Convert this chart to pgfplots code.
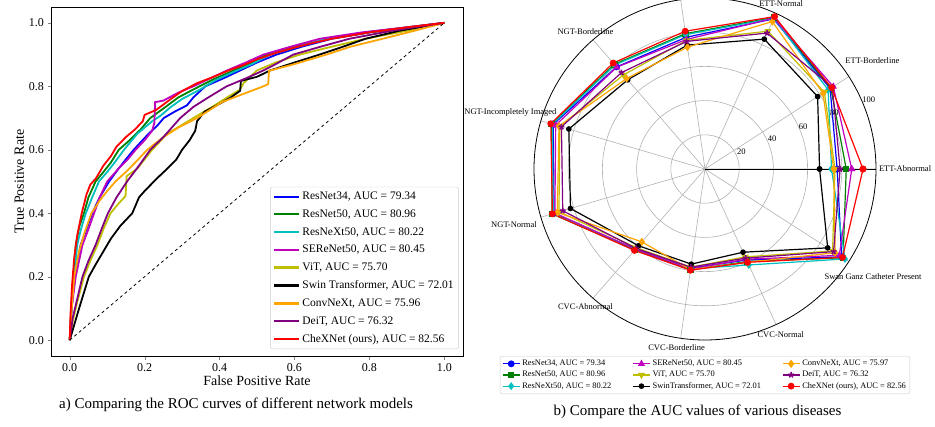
\documentclass[border=0pt]{standalone}
\usepackage{fontspec}
\setmainfont{Liberation Serif}
\usepackage{pgfplots}
\pgfplotsset{compat=1.18}
\usepgfplotslibrary{polar}
\definecolor{mB}{rgb}{0,0,1}
\definecolor{mG}{rgb}{0,0.5,0}
\definecolor{mC}{rgb}{0,0.75,0.75}
\definecolor{mM}{rgb}{0.75,0,0.75}
\definecolor{mY}{rgb}{0.75,0.75,0}
\definecolor{mO}{rgb}{1,0.647,0}
\definecolor{mP}{rgb}{0.5,0,0.5}
\definecolor{mR}{rgb}{1,0,0}
\begin{document}
\begin{tikzpicture}
\useasboundingbox (0pt,0pt) rectangle (935pt,426pt);
\begin{axis}[
  at={(51pt,70pt)}, anchor=south west,
  scale only axis, width=412pt, height=349pt,
  xmin=-0.05, xmax=1.05, ymin=-0.05, ymax=1.05,
  xtick={0,0.2,0.4,0.6,0.8,1.0}, ytick={0,0.2,0.4,0.6,0.8,1.0},
  xtick pos=bottom, ytick pos=left, tick align=outside,
  major tick length=3.5pt,
  /pgf/number format/.cd, fixed, fixed zerofill, precision=1, assume math mode=true, /pgfplots/.cd,
  ticklabel style={font=\fontsize{12}{14}\selectfont},
  xlabel={False Positive Rate}, ylabel={True Positive Rate},
  label style={font=\fontsize{14}{16}\selectfont},
  xlabel style={yshift=2pt}, ylabel style={yshift=-2pt},
  axis line style={line width=0.8pt},
  every axis plot/.append style={line width=1.8pt, no marks},
  legend cell align=left,
  legend style={at={(0.99,0.02)}, anchor=south east, draw=black!20, rounded corners=2pt,
    font=\fontsize{11.5}{13}\selectfont, row sep=4.6pt, inner sep=3pt},
  legend image code/.code={\draw[#1, line width=2.1pt] (0pt,0pt) -- (25pt,0pt);},
]
\addplot[mB] coordinates {(0,0)(0.005,0.1)(0.013,0.2)(0.029,0.3)(0.045,0.35)(0.06,0.4)(0.08,0.45)(0.105,0.5)(0.13,0.54)(0.15,0.57)(0.171,0.6)(0.21,0.65)(0.233,0.675)(0.251,0.7)(0.28,0.72)(0.313,0.74)(0.33,0.765)(0.362,0.8)(0.41,0.825)(0.455,0.85)(0.5,0.875)(0.552,0.9)(0.62,0.925)(0.7,0.95)(0.8,0.97)(0.9,0.985)(1,1)};
\addlegendentry{ResNet34, AUC = 79.34}
\addplot[mG] coordinates {(0,0)(0.004,0.1)(0.01,0.2)(0.016,0.3)(0.026,0.36)(0.038,0.4)(0.05,0.45)(0.069,0.5)(0.09,0.53)(0.11,0.56)(0.131,0.6)(0.16,0.63)(0.19,0.665)(0.215,0.7)(0.25,0.73)(0.29,0.765)(0.33,0.79)(0.38,0.82)(0.428,0.845)(0.48,0.872)(0.526,0.9)(0.6,0.925)(0.694,0.95)(0.8,0.97)(0.9,0.985)(1,1)};
\addlegendentry{ResNet50, AUC = 80.96}
\addplot[mC] coordinates {(0,0)(0.005,0.1)(0.012,0.2)(0.02,0.3)(0.03,0.35)(0.043,0.4)(0.06,0.45)(0.078,0.5)(0.1,0.53)(0.12,0.56)(0.145,0.6)(0.18,0.65)(0.22,0.69)(0.242,0.707)(0.27,0.735)(0.3,0.76)(0.348,0.79)(0.39,0.82)(0.437,0.845)(0.49,0.872)(0.535,0.9)(0.6,0.922)(0.685,0.95)(0.8,0.972)(0.9,0.986)(1,1)};
\addlegendentry{ResNeXt50, AUC = 80.22}
\addplot[mM] coordinates {(0,0)(0.005,0.1)(0.016,0.2)(0.034,0.3)(0.05,0.35)(0.065,0.4)(0.08,0.45)(0.1,0.5)(0.13,0.54)(0.155,0.57)(0.176,0.6)(0.2,0.63)(0.22,0.66)(0.226,0.685)(0.228,0.75)(0.25,0.755)(0.29,0.78)(0.33,0.8)(0.375,0.825)(0.42,0.85)(0.47,0.875)(0.517,0.9)(0.59,0.925)(0.668,0.95)(0.78,0.97)(0.9,0.986)(1,1)};
\addlegendentry{SEReNet50, AUC = 80.45}
\addplot[mY] coordinates {(0,0)(0.008,0.06)(0.02,0.12)(0.038,0.2)(0.055,0.25)(0.074,0.3)(0.09,0.35)(0.109,0.4)(0.13,0.43)(0.149,0.454)(0.152,0.517)(0.18,0.54)(0.2,0.57)(0.22,0.6)(0.26,0.65)(0.33,0.7)(0.38,0.735)(0.42,0.765)(0.455,0.79)(0.464,0.81)(0.5,0.85)(0.55,0.875)(0.614,0.9)(0.7,0.925)(0.79,0.95)(0.9,0.975)(1,1)};
\addlegendentry{ViT, AUC = 75.70}
\addplot[black] coordinates {(0,0)(0.01,0.04)(0.025,0.1)(0.038,0.15)(0.051,0.2)(0.07,0.24)(0.09,0.28)(0.11,0.32)(0.135,0.36)(0.167,0.4)(0.185,0.45)(0.2,0.47)(0.233,0.51)(0.26,0.54)(0.285,0.57)(0.3,0.6)(0.32,0.63)(0.335,0.66)(0.34,0.69)(0.36,0.72)(0.4,0.745)(0.43,0.765)(0.455,0.786)(0.457,0.817)(0.5,0.83)(0.535,0.85)(0.6,0.875)(0.667,0.9)(0.73,0.925)(0.79,0.95)(0.88,0.975)(1,1)};
\addlegendentry{Swin Transformer, AUC = 72.01}
\addplot[mO] coordinates {(0,0)(0.004,0.08)(0.012,0.2)(0.025,0.28)(0.04,0.34)(0.058,0.4)(0.08,0.44)(0.1,0.47)(0.122,0.5)(0.15,0.53)(0.175,0.56)(0.207,0.6)(0.25,0.64)(0.29,0.67)(0.34,0.7)(0.38,0.73)(0.406,0.75)(0.45,0.77)(0.517,0.8)(0.53,0.807)(0.532,0.849)(0.6,0.87)(0.685,0.9)(0.75,0.925)(0.836,0.95)(0.92,0.975)(1,1)};
\addlegendentry{ConvNeXt, AUC = 75.96}
\addplot[mP] coordinates {(0,0)(0.008,0.07)(0.02,0.13)(0.034,0.2)(0.05,0.25)(0.069,0.3)(0.085,0.35)(0.102,0.4)(0.125,0.45)(0.153,0.5)(0.185,0.55)(0.215,0.6)(0.25,0.64)(0.295,0.7)(0.33,0.735)(0.37,0.765)(0.419,0.8)(0.47,0.825)(0.517,0.85)(0.55,0.87)(0.597,0.9)(0.67,0.925)(0.747,0.95)(0.86,0.975)(1,1)};
\addlegendentry{DeiT, AUC = 76.32}
\addplot[mR] coordinates {(0,0)(0.002,0.08)(0.006,0.17)(0.012,0.26)(0.02,0.33)(0.032,0.40)(0.045,0.46)(0.055,0.49)(0.07,0.51)(0.09,0.55)(0.11,0.58)(0.125,0.61)(0.15,0.64)(0.175,0.665)(0.195,0.69)(0.2,0.71)(0.23,0.725)(0.27,0.76)(0.3,0.785)(0.34,0.81)(0.38,0.828)(0.42,0.848)(0.46,0.865)(0.5,0.885)(0.55,0.905)(0.6,0.922)(0.65,0.937)(0.7,0.95)(0.75,0.96)(0.8,0.97)(0.85,0.978)(0.9,0.986)(0.95,0.993)(1,1)};
\addlegendentry{CheXNet (ours), AUC = 82.56}
\addplot[black, dashed, line width=0.8pt, forget plot] coordinates {(0,0)(1,1)};
\end{axis}
\node[font=\fontsize{15}{18}\selectfont] at (236pt,21pt) {a) Comparing the ROC curves of different network models};
\begin{polaraxis}[
  at={(705pt,257pt)}, anchor=center,
  scale only axis, width=342pt, height=342pt,
  ymin=0, ymax=100,
  xtick={0,32.7273,65.4545,98.1818,130.9091,163.6364,196.3636,229.0909,261.8182,294.5455,327.2727},
  xticklabels={}, ytick={20,40,60,80}, yticklabels={},
  xmajorgrids, ymajorgrids,
  major grid style={black!30, line width=0.6pt},
  tick style={draw=none},
  axis line style={line width=0.8pt},
  clip=false,
  every axis plot/.append style={line width=1.2pt},
  legend columns=3, transpose legend,
  legend cell align=left,
  legend style={at={(0.5,-0.047)}, anchor=north, draw=black!20, rounded corners=2pt,
    font=\fontsize{8.4}{9.5}\selectfont, inner sep=2pt,
    /tikz/every even column/.append style={column sep=19pt}},
]
\addplot[mB, mark=*, mark size=2.8pt] coordinates {(0,77.3)(32.7273,87)(65.4545,96.5)(98.1818,77.8)(130.9091,79)(163.6364,92.5)(196.3636,92)(229.0909,62.5)(261.8182,58.5)(294.5455,58.5)(327.2727,95)(360,77.3)};
\addlegendentry{ResNet34, AUC = 79.34}
\addplot[mG, mark=square*, mark size=2.6pt] coordinates {(0,82.6)(32.7273,87.5)(65.4545,97.5)(98.1818,80)(130.9091,81)(163.6364,93.5)(196.3636,93.2)(229.0909,62.5)(261.8182,59.5)(294.5455,59.5)(327.2727,96)(360,82.6)};
\addlegendentry{ResNet50, AUC = 80.96}
\addplot[mC, mark=diamond*, mark size=3pt] coordinates {(0,74)(32.7273,85.6)(65.4545,97)(98.1818,79.4)(130.9091,80.5)(163.6364,93)(196.3636,92.5)(229.0909,62)(261.8182,59)(294.5455,61.7)(327.2727,97.3)(360,74)};
\addlegendentry{ResNeXt50, AUC = 80.22}
\addplot[mM, mark=triangle*, mark size=3pt] coordinates {(0,85.8)(32.7273,89.2)(65.4545,97)(98.1818,76.5)(130.9091,78.8)(163.6364,91)(196.3636,91.5)(229.0909,62)(261.8182,59)(294.5455,58)(327.2727,93.4)(360,85.8)};
\addlegendentry{SEReNet50, AUC = 80.45}
\addplot[mY, mark=triangle*, mark options={rotate=180}, mark size=3pt] coordinates {(0,76)(32.7273,83)(65.4545,88.6)(98.1818,76)(130.9091,72.8)(163.6364,88.5)(196.3636,89)(229.0909,61)(261.8182,58)(294.5455,56.5)(327.2727,88.7)(360,76)};
\addlegendentry{ViT, AUC = 75.70}
\addplot[black, mark=*, mark size=2.2pt] coordinates {(0,67)(32.7273,78.3)(65.4545,83.5)(98.1818,73.2)(130.9091,69)(163.6364,83)(196.3636,82)(229.0909,59.4)(261.8182,56.2)(294.5455,53.5)(327.2727,85.3)(360,67)};
\addlegendentry{SwinTransformer, AUC = 72.01}
\addplot[mO, mark=diamond*, mark size=3.2pt] coordinates {(0,75.3)(32.7273,82)(65.4545,94.8)(98.1818,72)(130.9091,70)(163.6364,89)(196.3636,90)(229.0909,56.4)(261.8182,59.5)(294.5455,60)(327.2727,90.5)(360,75.3)};
\addlegendentry{ConvNeXt, AUC = 75.97}
\addplot[mP, mark=star, mark size=3pt, mark options={line width=1.5pt}] coordinates {(0,79)(32.7273,88.5)(65.4545,87.4)(98.1818,75.4)(130.9091,74.6)(163.6364,87.5)(196.3636,86.7)(229.0909,61.5)(261.8182,58)(294.5455,57.3)(327.2727,89.4)(360,79)};
\addlegendentry{DeiT, AUC = 76.32}
\addplot[mR, mark=*, mark size=2.8pt] coordinates {(0,92.4)(32.7273,88)(65.4545,98)(98.1818,81.4)(130.9091,82)(163.6364,94)(196.3636,93)(229.0909,63)(261.8182,59.8)(294.5455,60)(327.2727,95.6)(360,92.4)};
\addlegendentry{CheXNet (ours), AUC = 82.56}
\begin{scope}[every node/.style={font=\fontsize{8.5}{10}\selectfont, inner sep=0pt}]
\node at (axis cs:0,117) {ETT-Abnormal};
\node at (axis cs:32.8,116.5) {ETT-Borderline};
\node at (axis cs:65.3,106.5) {ETT-Normal};
\node at (axis cs:131,106.5) {NGT-Borderline};
\node at (axis cs:163.8,118.5) {NGT-Incompletely Imaged};
\node at (axis cs:196.3,116.4) {NGT-Normal};
\node at (axis cs:229,106.6) {CVC-Abnormal};
\node at (axis cs:261,106) {CVC-Borderline};
\node at (axis cs:294.5,106.7) {CVC-Normal};
\node at (axis cs:327.3,116.8) {Swan Ganz Catheter Present};
\node at (axis cs:25,23.5) {20};
\node at (axis cs:24,43) {40};
\node at (axis cs:23.5,62.6) {60};
\node at (axis cs:23.5,82.5) {80};
\node at (axis cs:23,104) {100};
\end{scope}
\end{polaraxis}
\node[font=\fontsize{15}{18}\selectfont] at (697.5pt,13.7pt) {b) Compare the AUC values of various diseases};
\end{tikzpicture}
\end{document}
